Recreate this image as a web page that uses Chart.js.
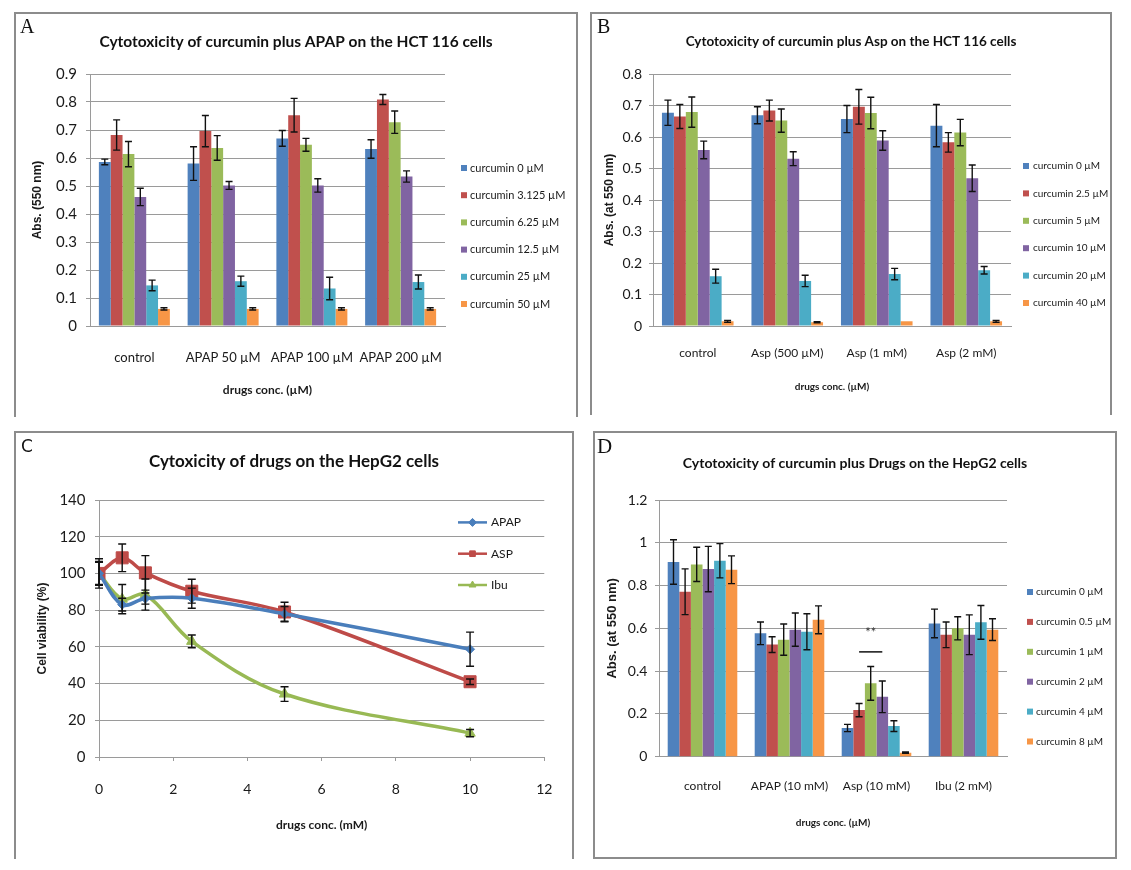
<!DOCTYPE html>
<html>
<head>
<meta charset="utf-8">
<script src="https://cdn.jsdelivr.net/npm/chart.js@4.4.1/dist/chart.umd.min.js"></script>
<style>
  body { margin: 0; background: #fff; width: 1131px; height: 870px; position: relative; overflow: hidden; }
  .panel { position: absolute; box-sizing: border-box; border: 2px solid #8c8c8c; }
  .panel canvas { position: absolute; left: 0; top: 0; }
  .tag { position: absolute; line-height: 1; color: #111; }
  .serif { font-family: "Liberation Serif", "DejaVu Serif", serif; }
  .sans { font-family: "DejaVu Sans", sans-serif; }
</style>
</head>
<body>
<div class="panel" style="left:14px;top:12px;width:564px;height:405px;border-bottom:none"><canvas id="chartA" width="560" height="403"></canvas></div>
<div class="panel" style="left:590px;top:12px;width:522px;height:403px;border-bottom:none"><canvas id="chartB" width="518" height="401"></canvas></div>
<div class="panel" style="left:14px;top:431px;width:560px;height:428px;border-bottom:none"><canvas id="chartC" width="556" height="426"></canvas></div>
<div class="panel" style="left:593px;top:431px;width:524px;height:428px"><canvas id="chartD" width="520" height="424"></canvas></div>

<div class="tag serif" style="left:20px;top:16px;font-size:20px">A</div>
<div class="tag serif" style="left:597px;top:16px;font-size:20px">B</div>
<div class="tag sans" style="left:21px;top:438px;font-size:17px">C</div>
<div class="tag serif" style="left:597px;top:436px;font-size:21px">D</div>

<script>
// ---- data ----
// A: curcumin plus APAP on HCT 116
var groupsA = ['control', 'APAP 50 µM', 'APAP 100 µM', 'APAP 200 µM'];
var seriesA = ['curcumin 0 µM', 'curcumin 3.125 µM', 'curcumin 6.25 µM', 'curcumin 12.5 µM', 'curcumin 25 µM', 'curcumin 50 µM'];
var valuesA = [
  [0.586, 0.580, 0.670, 0.632],
  [0.682, 0.696, 0.753, 0.809],
  [0.614, 0.636, 0.647, 0.728],
  [0.461, 0.502, 0.502, 0.534],
  [0.145, 0.160, 0.134, 0.157],
  [0.061, 0.061, 0.061, 0.061]
];
var errorsA = [
  [0.010, 0.060, 0.028, 0.033],
  [0.054, 0.056, 0.060, 0.018],
  [0.045, 0.044, 0.023, 0.040],
  [0.031, 0.014, 0.024, 0.020],
  [0.019, 0.018, 0.040, 0.025],
  [0.004, 0.004, 0.004, 0.004]
];

// B: curcumin plus Asp on HCT 116
var groupsB = ['control', 'Asp (500 µM)', 'Asp (1 mM)', 'Asp (2 mM)'];
var seriesB = ['curcumin 0 µM', 'curcumin 2.5 µM', 'curcumin 5 µM', 'curcumin 10 µM', 'curcumin 20 µM', 'curcumin 40 µM'];
var valuesB = [
  [0.677, 0.669, 0.657, 0.636],
  [0.665, 0.684, 0.696, 0.583],
  [0.679, 0.652, 0.676, 0.614],
  [0.559, 0.531, 0.589, 0.469],
  [0.158, 0.143, 0.165, 0.177],
  [0.015, 0.012, 0.015, 0.015]
];
var errorsB = [
  [0.040, 0.027, 0.043, 0.067],
  [0.038, 0.033, 0.055, 0.031],
  [0.048, 0.037, 0.050, 0.042],
  [0.028, 0.022, 0.031, 0.042],
  [0.022, 0.018, 0.018, 0.012],
  [0.003, 0.002, 0.000, 0.003]
];

// C: drugs on HepG2 (cell viability %)
var concC = [0, 0.625, 1.25, 2.5, 5, 10];
var namesC = ['APAP', 'ASP', 'Ibu'];
var apapC = [100, 83, 86.3, 86.5, 78, 58.7];
var aspC = [100, 108.5, 100.3, 90.3, 79, 41];
var ibuC = [100, 86, 88.5, 63, 34.3, 13];
var apapErrC = [8, 3.5, 3, 5.5, 4, 9.3];
var aspErrC = [6.5, 7.5, 9.4, 6.5, 5.3, 1.5];
var ibuErrC = [6, 8, 8.5, 3.5, 4, 2];

// D: curcumin plus drugs on HepG2
var groupsD = ['control', 'APAP (10 mM)', 'Asp (10 mM)', 'Ibu (2 mM)'];
var seriesD = ['curcumin 0 µM', 'curcumin 0.5 µM', 'curcumin 1 µM', 'curcumin 2 µM', 'curcumin 4 µM', 'curcumin 8 µM'];
var valuesD = [
  [0.910, 0.577, 0.134, 0.623],
  [0.771, 0.524, 0.218, 0.570],
  [0.899, 0.547, 0.343, 0.600],
  [0.877, 0.594, 0.280, 0.570],
  [0.916, 0.584, 0.143, 0.628],
  [0.874, 0.640, 0.019, 0.594]
];
var errorsD = [
  [0.104, 0.053, 0.017, 0.067],
  [0.107, 0.037, 0.031, 0.060],
  [0.080, 0.073, 0.079, 0.054],
  [0.106, 0.078, 0.074, 0.093],
  [0.080, 0.084, 0.025, 0.079],
  [0.065, 0.065, 0.003, 0.051]
];
// significance mark in D: group, from series, to series, line value, text value
var markD = [2, 1, 3, 0.49, 0.578];

// ---- styling ----
var FONT = 'Lato, "Open Sans", sans-serif';
var YFONT = '"Liberation Sans", Arial, sans-serif';
var colors = ['#4F81BD', '#C0504D', '#9BBB59', '#8064A2', '#4BACC6', '#F79646'];
var gridColor = '#9a9a9a';
Chart.defaults.font.family = FONT;
Chart.defaults.color = '#1a1a1a';

function tickFmt(v) { return String(+v.toFixed(2)); }

// empty right-hand box, keeps the title centred on the whole panel
function spacer(w) {
  return {
    position: 'right', display: true,
    grid: { display: false, drawTicks: false },
    border: { display: false },
    ticks: { display: false },
    afterFit: function (s) { s.width = w; }
  };
}

// error bars drawn from the y scale
var errorBars = {
  id: 'errorBars',
  afterDatasetsDraw: function (chart) {
    var ctx = chart.ctx, ys = chart.scales.y;
    ctx.save();
    ctx.strokeStyle = '#111';
    ctx.lineWidth = 1.4;
    chart.data.datasets.forEach(function (ds, di) {
      if (!ds.errors) return;
      var meta = chart.getDatasetMeta(di);
      var cap = ds.capWidth || 3.5;
      meta.data.forEach(function (el, i) {
        var v = ds.data[i];
        if (typeof v === 'object') v = v.y;
        var e = ds.errors[i];
        if (!e) return;
        var top = ys.getPixelForValue(v + e), bot = ys.getPixelForValue(v - e);
        ctx.beginPath();
        ctx.moveTo(el.x, top); ctx.lineTo(el.x, bot);
        ctx.moveTo(el.x - cap, top); ctx.lineTo(el.x + cap, top);
        ctx.moveTo(el.x - cap, bot); ctx.lineTo(el.x + cap, bot);
        ctx.stroke();
      });
    });
    ctx.restore();
  }
};

// legend at a fixed spot beside / inside the plot
var sideLegend = {
  id: 'sideLegend',
  afterDraw: function (chart, args, o) {
    var ctx = chart.ctx;
    ctx.save();
    ctx.font = o.size + 'px ' + FONT;
    ctx.textBaseline = 'middle';
    chart.data.datasets.forEach(function (ds, i) {
      var cy = o.y + i * o.step;
      if (o.len) {
        ctx.strokeStyle = ds.borderColor;
        ctx.lineWidth = 2.5;
        ctx.beginPath();
        ctx.moveTo(o.x, cy); ctx.lineTo(o.x + o.len, cy);
        ctx.stroke();
        ctx.fillStyle = ds.backgroundColor;
        ctx.lineWidth = 1;
        Chart.helpers.drawPoint(ctx, { pointStyle: ds.pointStyle, radius: 4, rotation: 0, borderWidth: 1 }, o.x + o.len / 2, cy);
      } else {
        ctx.fillStyle = ds.backgroundColor;
        ctx.fillRect(o.x, cy - o.box / 2, o.box, o.box);
      }
      ctx.fillStyle = '#1a1a1a';
      ctx.fillText(ds.label, o.textX, cy);
    });
    ctx.restore();
  }
};

// "**" over the Asp group in D
var sigMark = {
  id: 'sigMark',
  afterDatasetsDraw: function (chart, args, o) {
    if (!o.mark) return;
    var m = o.mark, ctx = chart.ctx, ys = chart.scales.y;
    var x1 = chart.getDatasetMeta(m[1]).data[m[0]].x;
    var x2 = chart.getDatasetMeta(m[2]).data[m[0]].x;
    var yl = ys.getPixelForValue(m[3]), yt = ys.getPixelForValue(m[4]);
    ctx.save();
    ctx.strokeStyle = '#111';
    ctx.lineWidth = 1.5;
    ctx.beginPath(); ctx.moveTo(x1, yl); ctx.lineTo(x2, yl); ctx.stroke();
    ctx.fillStyle = '#333';
    ctx.font = '13px ' + FONT;
    ctx.textAlign = 'center';
    ctx.textBaseline = 'middle';
    ctx.fillText('**', (x1 + x2) / 2, yt);
    ctx.restore();
  }
};

function barChart(id, labels, names, values, errors, max, step, g) {
  var datasets = names.map(function (name, i) {
    return {
      label: name, data: values[i], errors: errors[i],
      backgroundColor: colors[i], categoryPercentage: 0.8, barPercentage: 1
    };
  });
  return new Chart(document.getElementById(id), {
    type: 'bar',
    data: { labels: labels, datasets: datasets },
    options: {
      responsive: false, animation: false, devicePixelRatio: 1,
      plugins: {
        legend: { display: false },
        tooltip: { enabled: false },
        title: {
          display: true, text: g.title, color: '#111',
          font: { size: g.titleSize, weight: 'bold' },
          padding: { top: g.titleTop, bottom: g.titleBottom }
        },
        sideLegend: g.legend,
        sigMark: { mark: g.mark }
      },
      scales: {
        x: {
          grid: { display: false, drawTicks: false },
          border: { display: true, color: gridColor },
          ticks: { font: { size: g.catSize }, padding: g.catPad, maxRotation: 0, autoSkip: false, color: '#1a1a1a' },
          title: { display: true, text: 'drugs conc. (µM)', font: { size: g.xTitleSize, weight: 'bold' }, padding: { top: 0, bottom: g.xTitleBottom } },
          afterFit: function (s) { s.height = g.xAxisH; }
        },
        y: {
          min: 0, max: max,
          grid: { color: gridColor, tickLength: 4 },
          border: { display: true, color: gridColor },
          ticks: { stepSize: step, font: { size: g.tickSize }, padding: g.tickPad, color: '#1a1a1a', callback: tickFmt },
          title: { display: true, text: g.yTitle, font: { family: YFONT, size: g.yTitleSize, weight: 'bold' }, padding: { top: g.yTitleTop, bottom: 0 } },
          afterFit: function (s) { s.width = g.plotLeft; }
        },
        y2: spacer(g.padRight)
      }
    },
    plugins: [errorBars, sideLegend, sigMark]
  });
}

barChart('chartA', groupsA, seriesA, valuesA, errorsA, 0.9, 0.1, {
  title: 'Cytotoxicity of curcumin plus APAP on the HCT 116 cells', titleSize: 15.5, titleTop: 18.7, titleBottom: 22.7,
  plotLeft: 74, padRight: 131, xAxisH: 91,
  tickSize: 15, tickPad: 9, catSize: 13, catPad: 24,
  xTitleSize: 12, xTitleBottom: 19.8, yTitle: 'Abs. (550 nm)', yTitleSize: 12, yTitleTop: 14.8,
  legend: { x: 445, textX: 454, y: 154, step: 27.2, size: 11, box: 6 }
});

barChart('chartB', groupsB, seriesB, valuesB, errorsB, 0.8, 0.1, {
  title: 'Cytotoxicity of curcumin plus Asp on the HCT 116 cells', titleSize: 13.5, titleTop: 19.9, titleBottom: 23.9,
  plotLeft: 61, padRight: 99, xAxisH: 89,
  tickSize: 14, tickPad: 7, catSize: 12, catPad: 20,
  xTitleSize: 10, xTitleBottom: 22, yTitle: 'Abs. (at 550 nm)', yTitleSize: 12, yTitleTop: 10.8,
  legend: { x: 431, textX: 441, y: 152, step: 27.4, size: 10, box: 6 }
});

barChart('chartD', groupsD, seriesD, valuesD, errorsD, 1.2, 0.2, {
  title: 'Cytotoxicity of curcumin plus Drugs on the HepG2 cells', titleSize: 14, titleTop: 22, titleBottom: 28.2,
  plotLeft: 64, padRight: 108, xAxisH: 100.3,
  tickSize: 14, tickPad: 7.7, catSize: 12, catPad: 22,
  xTitleSize: 10, xTitleBottom: 28.5, yTitle: 'Abs. (at 550 nm)', yTitleSize: 13, yTitleTop: 9.6,
  legend: { x: 432, textX: 441, y: 159, step: 29.9, size: 10, box: 6 },
  mark: markD
});

// C: line chart on a linear x scale
function pts(ys) { return concC.map(function (x, i) { return { x: x, y: ys[i] }; }); }
var lineStyles = [
  { color: '#4A7EBB', style: 'rectRot', r: 4.5 },
  { color: '#BE4B48', style: 'rect', r: 8.5 },
  { color: '#98B954', style: 'triangle', r: 6 }
];
var seriesC = [apapC, aspC, ibuC];
var errsC = [apapErrC, aspErrC, ibuErrC];

new Chart(document.getElementById('chartC'), {
  type: 'line',
  data: {
    datasets: namesC.map(function (n, i) {
      var s = lineStyles[i];
      return {
        label: n, data: pts(seriesC[i]), errors: errsC[i], capWidth: 4,
        borderColor: s.color, backgroundColor: s.color, borderWidth: 3.5,
        pointStyle: s.style, pointRadius: s.r, pointBorderWidth: 1,
        tension: 0.35, fill: false
      };
    })
  },
  options: {
    responsive: false, animation: false, devicePixelRatio: 1,
    plugins: {
      legend: { display: false },
      tooltip: { enabled: false },
      title: {
        display: true, text: 'Cytoxicity of drugs on the HepG2 cells', color: '#111',
        font: { size: 17, weight: 'bold' }, padding: { top: 18.8, bottom: 27.8 }
      },
      sideLegend: { x: 442, len: 29, textX: 475, y: 89.4, step: 31.3, size: 12 }
    },
    scales: {
      x: {
        type: 'linear', min: 0, max: 12,
        grid: { drawOnChartArea: false, color: gridColor, tickLength: 4 },
        border: { display: true, color: gridColor },
        ticks: { stepSize: 2, font: { size: 14 }, padding: 19.6, color: '#1a1a1a' },
        title: { display: true, text: 'drugs conc. (mM)', font: { size: 12, weight: 'bold' }, padding: { top: 0, bottom: 26.2 } },
        afterFit: function (s) { s.height = 102; }
      },
      y: {
        min: 0, max: 140,
        grid: { color: gridColor, tickLength: 4 },
        border: { display: true, color: gridColor },
        ticks: { stepSize: 20, font: { size: 15 }, padding: 9.5, color: '#1a1a1a' },
        title: { display: true, text: 'Cell viability (%)', font: { family: YFONT, size: 12, weight: 'bold' }, padding: { top: 19.8, bottom: 0 } },
        afterFit: function (s) { s.width = 83; }
      },
      y2: spacer(23)
    }
  },
  plugins: [errorBars, sideLegend]
});
</script>
</body>
</html>
